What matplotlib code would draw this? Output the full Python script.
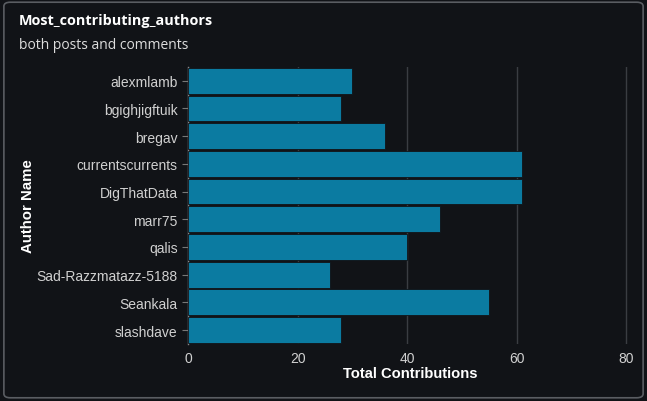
from matplotlib import pyplot as plt
from matplotlib.patches import FancyBboxPatch

authors = ['alexmlamb', 'bgighjigftuik', 'bregav', 'currentscurrents', 'DigThatData',
           'marr75', 'qalis', 'Sad-Razzmatazz-5188', 'Seankala', 'slashdave']
contributions = [30, 28, 36, 61, 61, 46, 40, 26, 55, 28]
x_ticks = [0, 20, 40, 60, 80]

bg = '#111317'
bar_color = '#0b7ba1'
text_color = '#d0d0d0'

fig = plt.figure(figsize=(6.47, 4.02), dpi=100, facecolor=bg)
border = FancyBboxPatch((0.006, 0.008), 0.988, 0.984, boxstyle='round,pad=0,rounding_size=0.01',
                        transform=fig.transFigure, facecolor='none', edgecolor='#5a5d62',
                        linewidth=1.2, zorder=5)
fig.patches.append(border)

ax = fig.add_axes([0.2906, 0.142, 0.686, 0.689])
ax.set_facecolor(bg)
pos = list(range(len(authors)))
ax.barh(pos, contributions, height=0.93, color=bar_color, edgecolor=bg, linewidth=0.6, zorder=3)
ax.set_yticks(pos)
ax.set_yticklabels(authors, family='Liberation Sans', fontsize=10, color=text_color)
ax.set_ylim(len(authors) - 0.5, -0.5)
ax.set_xlim(0, 81)
ax.set_xticks(x_ticks)
ax.set_xticklabels([str(t) for t in x_ticks], family='Liberation Sans', fontsize=10, color=text_color)
ax.tick_params(axis='both', colors='#777', length=4, width=0.8)
ax.tick_params(axis='x', length=0, pad=5)
ax.tick_params(axis='both', labelcolor=text_color)
ax.grid(axis='x', color='#3a3d42', linewidth=1, zorder=0)
for s in ['top', 'right', 'bottom']:
    ax.spines[s].set_visible(False)
ax.spines['left'].set_color('#888')
ax.spines['left'].set_linewidth(1)

ax.set_xlabel('Total Contributions', family='Liberation Sans', fontsize=10.6, fontweight='bold',
              color='white', labelpad=1)
ax.set_ylabel('Author Name', family='Liberation Sans', fontsize=10.8, fontweight='bold',
              color='white', labelpad=1)

fig.text(0.029, 0.948, 'Most_contributing_authors', fontsize=10.4, fontweight='bold',
         color='white', family='Open Sans', va='center')
fig.text(0.029, 0.888, 'both posts and comments', fontsize=10, color='#dddddd',
         family='Open Sans', va='center')

plt.savefig('out.png', dpi=100, facecolor=bg)
